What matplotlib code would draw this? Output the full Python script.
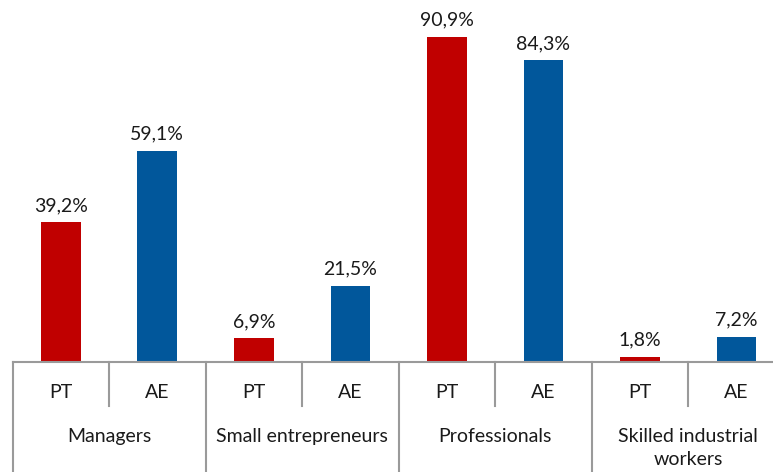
import matplotlib.pyplot as plt
from matplotlib.transforms import blended_transform_factory

# data
groups = ['Managers', 'Small entrepreneurs', 'Professionals', 'Skilled industrial\nworkers']
series = ['PT', 'AE']
pt_values = [39.2, 6.9, 90.9, 1.8]
ae_values = [59.1, 21.5, 84.3, 7.2]

red = '#C00000'
blue = '#01579B'
line_col = '#9A9A9A'
txt_col = '#1A1A1A'

plt.rcParams['font.family'] = ['Lato', 'DejaVu Sans']

W, H = 773, 472
fig = plt.figure(figsize=(W / 100, H / 100), dpi=100)
ax = fig.add_axes([12.5 / W, 109 / H, 1 - 12.5 / W, 359 / H])

xs, vals, cols, subs = [], [], [], []
for i in range(len(groups)):
    xs += [2 * i, 2 * i + 1]
    vals += [pt_values[i], ae_values[i]]
    cols += [red, blue]
    subs += series

ax.bar(xs, vals, width=0.41, color=cols, zorder=2)
for x, v in zip(xs, vals):
    ax.annotate(f'{v:.1f}%'.replace('.', ','), (x, v), xytext=(0, 6),
                textcoords='offset points', ha='center', va='bottom',
                fontsize=14, color=txt_col)

ax.set_xlim(-0.5, 7.38)
ax.set_ylim(0, 100)
ax.axis('off')

# category axis drawn by hand (Excel multi-level style)
tr = blended_transform_factory(ax.transData, fig.transFigure)
y0 = 1 - 362 / H
ax.plot([-0.5, 7.38], [y0, y0], transform=tr, color=line_col, lw=1.5,
        clip_on=False, zorder=3)
for i, g in enumerate(groups):
    b = 2 * i - 0.5
    ax.plot([b, b], [y0, 0], transform=tr, color=line_col, lw=1.5, clip_on=False)
    ax.plot([b + 1, b + 1], [y0, 1 - 406 / H], transform=tr, color=line_col,
            lw=1.5, clip_on=False)
    ax.text(2 * i + 0.5, 1 - 428 / H, g, transform=tr, ha='center', va='top',
            fontsize=14, color=txt_col, linespacing=1.45)
for x, s in zip(xs, subs):
    ax.text(x, 1 - 393 / H, s, transform=tr, ha='center', va='center',
            fontsize=14, color=txt_col)

fig.savefig('out.png', dpi=100)
